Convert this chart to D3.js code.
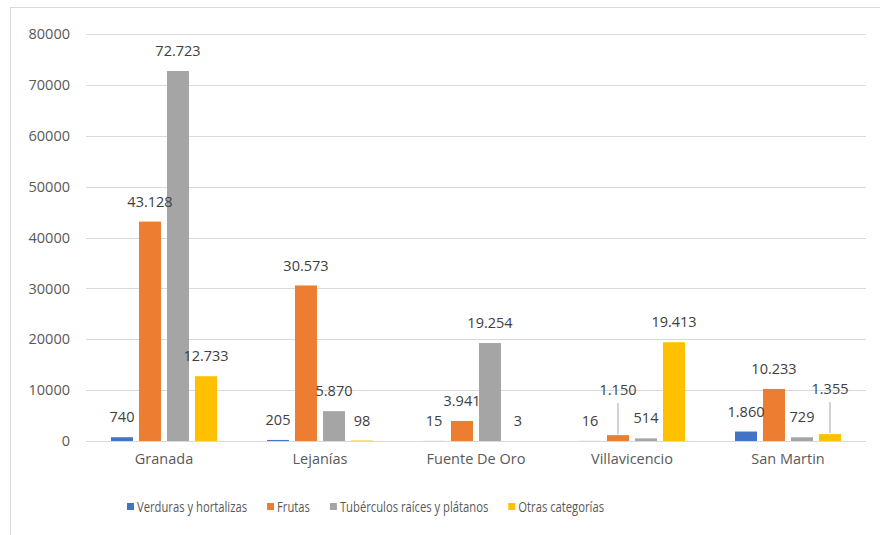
<!DOCTYPE html>
<html><head><meta charset="utf-8">
<script src="https://cdn.jsdelivr.net/npm/d3@7"></script>
<style>body{margin:0;background:#fff}svg{display:block}text{font-family:"Open Sans",Lato,sans-serif}</style>
</head><body><svg id="c" width="880" height="535"></svg>
<script>
const categories = ["Granada", "Lejanías", "Fuente De Oro", "Villavicencio", "San Martin"];
const seriesNames = ["Verduras y hortalizas", "Frutas", "Tubérculos raíces y plátanos", "Otras categorías"];
const verduras = [740, 205, 15, 16, 1860];
const frutas = [43128, 30573, 3941, 1150, 10233];
const tuberculos = [72723, 5870, 19254, 514, 729];
const otras = [12733, 98, 3, 19413, 1355];
const yTicks = [0, 10000, 20000, 30000, 40000, 50000, 60000, 70000, 80000];
const colors = ["#4472C4", "#ED7D31", "#A5A5A5", "#FFC000"];
const seriesValues = [verduras, frutas, tuberculos, otras];
// labels moved up with a leader line (series index, category index)
const leaderLabels = [[1, 3], [3, 4]];

const FONT = "'Open Sans',Lato,sans-serif";
const svg = d3.select("#c");
svg.append("rect").attr("x", 10.5).attr("y", 7.5).attr("width", 880).attr("height", 540)
  .attr("fill", "#fff").attr("stroke", "#d9d9d9").attr("stroke-width", 1);

const x0 = d3.scaleBand().domain(categories).range([86, 866]);
const x1 = d3.scaleBand().domain(seriesNames).range([0, 106]).paddingInner(0.215);
const y = d3.scaleLinear().domain([0, 80000]).range([441, 34]);

const grid = svg.append("g");
yTicks.forEach(t => {
  grid.append("line").attr("x1", 86).attr("x2", 866).attr("y1", Math.round(y(t)) + 0.5).attr("y2", Math.round(y(t)) + 0.5)
    .attr("stroke", "#d9d9d9").attr("stroke-width", 1);
});
const yAxis = d3.axisLeft(y).tickValues(yTicks).tickSize(0).tickPadding(0).tickFormat(d => String(d));
const ya = svg.append("g").attr("transform", "translate(70,0)").call(yAxis);
ya.select(".domain").remove();
ya.selectAll("text").attr("font-size", 14.5).attr("fill", "#595959").attr("font-family", FONT);

const xAxis = d3.axisBottom(x0).tickSize(0).tickPadding(0);
const xa = svg.append("g").attr("transform", "translate(0,454)").call(xAxis);
xa.select(".domain").remove();
xa.selectAll("text").attr("font-size", 14.5).attr("fill", "#595959").attr("font-family", FONT);

const fmt = v => d3.format(",")(v).replace(/,/g, ".");
const groupOffset = (x0.bandwidth() - 106) / 2;

const data = [];
seriesNames.forEach((s, si) => categories.forEach((c, ci) => data.push({s, si, c, ci, v: seriesValues[si][ci]})));

const bars = svg.append("g");
bars.selectAll("rect").data(data).join("rect")
  .attr("x", d => x0(d.c) + groupOffset + x1(d.s))
  .attr("width", x1.bandwidth())
  .attr("y", d => y(d.v))
  .attr("height", d => y(0) - y(d.v))
  .attr("fill", d => colors[d.si]);

const isLeader = d => leaderLabels.some(p => p[0] === d.si && p[1] === d.ci);
const labels = svg.append("g");
data.forEach(d => {
  const cx = x0(d.c) + groupOffset + x1(d.s) + x1.bandwidth() / 2;
  const top = y(d.v);
  let ly = top - 20;
  if (isLeader(d)) {
    ly = top - 45;
    labels.append("line").attr("x1", cx).attr("x2", cx).attr("y1", ly + 13).attr("y2", top - 1)
      .attr("stroke", "#a6a6a6").attr("stroke-width", 1);
  }
  labels.append("text").attr("x", cx).attr("y", ly).attr("dy", "0.35em").attr("text-anchor", "middle")
    .attr("font-size", 14.5).attr("fill", "#404040").text(fmt(d.v));
});

// legend
const leg = svg.append("g");
const items = [];
let tw = 0;
seriesNames.forEach((s, i) => {
  const g = leg.append("g");
  g.append("rect").attr("x", 0).attr("y", -4).attr("width", 7).attr("height", 7).attr("fill", colors[i]);
  const t = g.append("text").attr("x", 10).attr("y", 0).attr("dy", "0.35em").attr("font-size", 14)
    .attr("font-family", FONT).attr("fill", "#595959").text(s);
  const w = 10 + t.node().getComputedTextLength();
  items.push({g, t, w});
  tw += w;
});
// fit legend to its reference span
const gap = 20;
const target = 604 - 127;
const scale = (target - gap * (items.length - 1) - 10 * items.length) / (tw - 10 * items.length);
let lx = 127;
items.forEach(it => {
  const tl = (it.w - 10) * scale;
  it.t.attr("textLength", tl).attr("lengthAdjust", "spacingAndGlyphs");
  it.g.attr("transform", `translate(${lx},507)`);
  lx += 10 + tl + gap;
});
</script></body></html>
